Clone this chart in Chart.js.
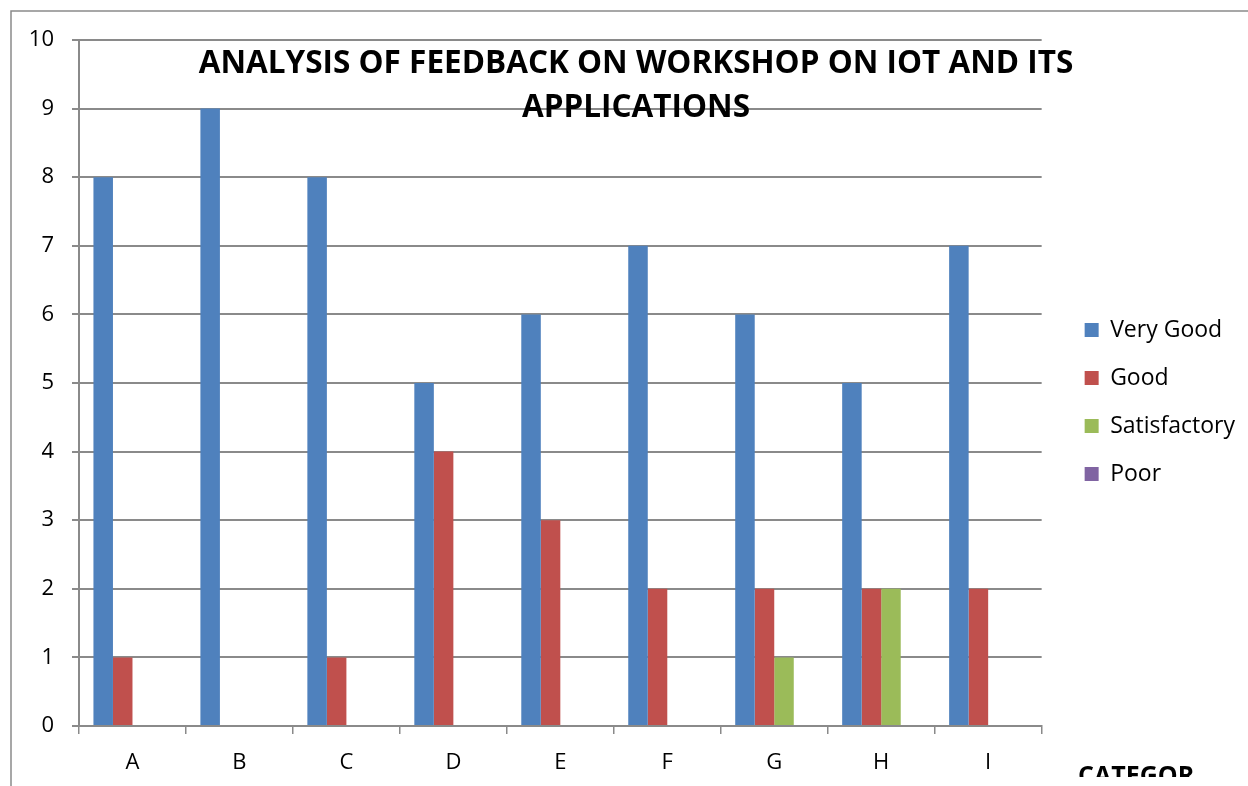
<!DOCTYPE html>
<html>
<head>
<meta charset="utf-8">
<title>Workshop feedback</title>
<script src="https://cdn.jsdelivr.net/npm/chart.js@4/dist/chart.umd.min.js"></script>
<style>
  html, body { margin: 0; padding: 0; background: #fff; }
  #wrap { width: 1248px; height: 786px; }
</style>
</head>
<body>
<div id="wrap"><canvas id="feedbackChart" width="1248" height="786"></canvas></div>
<script>
// ---------- data ----------
const categories = ["A", "B", "C", "D", "E", "F", "G", "H", "I"];
const veryGood = [8, 9, 8, 5, 6, 7, 6, 5, 7];
const good = [1, 0, 1, 4, 3, 2, 2, 2, 2];
const satisfactory = [0, 0, 0, 0, 0, 0, 1, 2, 0];
const poor = [0, 0, 0, 0, 0, 0, 0, 0, 0];
const yTicks = [0, 1, 2, 3, 4, 5, 6, 7, 8, 9, 10];

const titleLines = ["ANALYSIS OF FEEDBACK ON WORKSHOP ON IOT AND ITS", "APPLICATIONS"];
const axisTitle = "CATEGORY";

const FONT = "'Open Sans', 'Noto Sans', sans-serif";
const GRID = "#8a8a8a";

// frame lines, title over the plot, clipped axis title
const decorations = {
  id: "decorations",
  beforeDraw(chart) {
    const c = chart.ctx;
    c.save();
    c.fillStyle = "#fff";
    c.fillRect(0, 0, chart.width, chart.height);
    c.strokeStyle = "#8a8a8a";
    c.lineWidth = 1.5;
    c.beginPath();
    c.moveTo(11, chart.height);
    c.lineTo(11, 11);
    c.lineTo(chart.width, 11);
    c.stroke();
    c.restore();
  },
  afterDraw(chart) {
    const c = chart.ctx;
    c.save();
    c.fillStyle = "#000";
    c.textAlign = "center";
    c.textBaseline = "middle";
    c.font = "bold 31.5px " + FONT;
    c.fillText(titleLines[0], 636, 64);
    c.fillText(titleLines[1], 636, 108);

    // axis title box is cut off at the bottom and right
    c.beginPath();
    c.rect(1060, 740, 133, 37);
    c.clip();
    c.font = "bold 25px " + FONT;
    c.textAlign = "left";
    c.textBaseline = "alphabetic";
    c.fillText(axisTitle, 1078, 784);
    c.restore();
  }
};

function makeSet(label, data, color) {
  return {
    label: label,
    data: data,
    backgroundColor: color,
    borderWidth: 0,
    categoryPercentage: 0.73,
    barPercentage: 1.0
  };
}

// empty scales used only as spacers in the layout
function spacer(position, size) {
  return {
    type: "linear",
    position: position,
    display: true,
    grid: { display: false },
    border: { display: false },
    ticks: { display: false },
    afterFit(scale) {
      if (scale.isHorizontal()) scale.height = size;
      else scale.width = size;
    }
  };
}

new Chart(document.getElementById("feedbackChart"), {
  type: "bar",
  data: {
    labels: categories,
    datasets: [
      makeSet("Very Good", veryGood, "#4F81BD"),
      makeSet("Good", good, "#C0504D"),
      makeSet("Satisfactory", satisfactory, "#9BBB59"),
      makeSet("Poor", poor, "#8064A2")
    ]
  },
  options: {
    responsive: false,
    animation: false,
    layout: { padding: { top: 28, left: 0, right: 3, bottom: 10 } },
    plugins: {
      title: { display: false },
      tooltip: { enabled: false },
      legend: {
        position: "right",
        align: "center",
        labels: {
          boxWidth: 14,
          boxHeight: 14,
          padding: 25,
          color: "#000",
          font: { family: FONT, size: 23 }
        }
      }
    },
    scales: {
      x: {
        grid: {
          offset: true,
          drawOnChartArea: false,
          drawTicks: true,
          tickLength: 8,
          color: GRID,
          lineWidth: 1.5
        },
        border: { color: GRID, width: 2 },
        ticks: {
          color: "#000",
          padding: 16,
          font: { family: FONT, size: 22 }
        },
        afterFit(scale) { scale.height = 50; }
      },
      y: {
        min: 0,
        max: 10,
        afterBuildTicks(scale) {
          scale.ticks = yTicks.map(v => ({ value: v }));
        },
        grid: {
          color: GRID,
          lineWidth: 2,
          tickLength: 7
        },
        border: { color: GRID, width: 2 },
        ticks: {
          color: "#000",
          padding: 18,
          font: { family: FONT, size: 22 }
        },
        afterFit(scale) { scale.width = 79; }
      },
      topGap: spacer("top", 12),
      gap: spacer("right", 18)
    }
  },
  plugins: [decorations]
});
</script>
</body>
</html>
